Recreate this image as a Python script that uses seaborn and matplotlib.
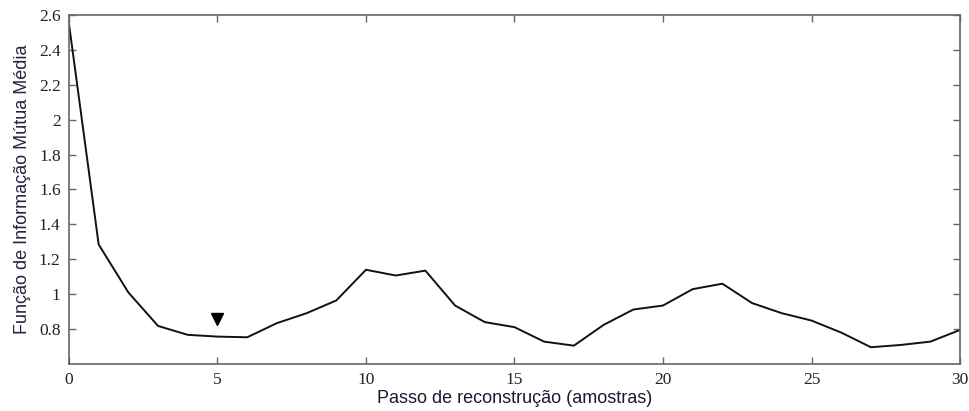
import numpy as np
import pandas as pd
import matplotlib
matplotlib.use("Agg")
import matplotlib.pyplot as plt
import seaborn as sns

# Average mutual information versus reconstruction delay (samples)
passo = list(range(0, 31))
info_mutua = [2.55, 1.285, 1.01, 0.818, 0.767, 0.757, 0.753, 0.834, 0.891, 0.964,
              1.14, 1.107, 1.135, 0.935, 0.84, 0.811, 0.728, 0.705, 0.824, 0.912,
              0.935, 1.029, 1.06, 0.949, 0.891, 0.849, 0.78, 0.696, 0.709, 0.728,
              0.795]

# Chosen delay, flagged with a downward marker
passo_escolhido = [5]
marcador_y = [0.855]

x_ticks = [0, 5, 10, 15, 20, 25, 30]
y_ticks = [0.8, 1.0, 1.2, 1.4, 1.6, 1.8, 2.0, 2.2, 2.4, 2.6]
y_tick_labels = ["0.8", "1", "1.2", "1.4", "1.6", "1.8", "2", "2.2", "2.4", "2.6"]

sns.set_theme(style="white")
plt.rcParams["font.family"] = ["Liberation Serif", "DejaVu Serif"]

df = pd.DataFrame({"passo": passo, "ami": info_mutua})

fig = plt.figure(figsize=(9.7, 4.11), dpi=100)
ax = fig.add_axes([0.0711, 0.1144, 0.9186, 0.8491])

sns.lineplot(data=df, x="passo", y="ami", ax=ax, color="#111111", linewidth=1.4)
ax.plot(passo_escolhido, marcador_y, marker="v", color="black", markersize=8.5,
        linestyle="none")

ax.set_xlim(0, 30)
ax.set_ylim(0.6, 2.6)
ax.set_xticks(x_ticks)
ax.set_xticklabels([str(t) for t in x_ticks])
ax.set_yticks(y_ticks)
ax.set_yticklabels(y_tick_labels)

spine_col = "#666666"
for s in ax.spines.values():
    s.set_visible(True)
    s.set_color(spine_col)
    s.set_linewidth(1.2)

ax.tick_params(axis="both", direction="in", length=5, width=1.0, color=spine_col,
               labelsize=12.5, labelcolor="#222222", top=True, right=True,
               bottom=True, left=True, pad=6)
ax.grid(False)

ax.set_xlabel("Passo de reconstrução (amostras)", family=["Liberation Sans"],
              fontsize=13, color="#1a1a2e", labelpad=1)
ax.set_ylabel("Função de Informação Mútua Média", family=["Liberation Sans"],
              fontsize=13, color="#2a2040", labelpad=6)

fig.savefig("out.png", dpi=100, facecolor="white")
